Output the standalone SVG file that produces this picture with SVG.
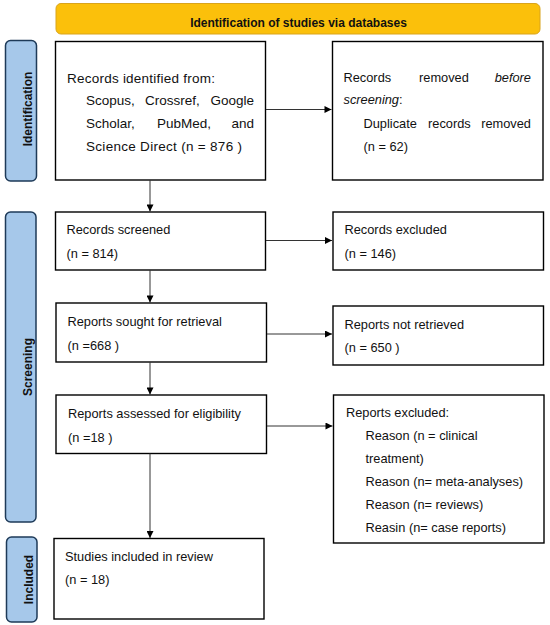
<svg xmlns="http://www.w3.org/2000/svg" width="550" height="625" viewBox="0 0 550 625">
<defs>
<marker id="ah" viewBox="0 0 10 10" refX="10" refY="5" markerWidth="8" markerHeight="7" markerUnits="userSpaceOnUse" orient="auto">
<path d="M0,0 L10,5 L0,10 z" fill="#000"/>
</marker>
<style>
.box{fill:#fff;stroke:#000;stroke-width:1.4}
.side{fill:#a6c8ea;stroke:#1e3a58;stroke-width:1.5}
.t{font-family:"Liberation Sans",Arial,sans-serif;font-size:12.8px;fill:#111}
.t1{font-family:"Liberation Sans",Arial,sans-serif;font-size:13.5px;fill:#111}
.b{font-family:"Liberation Sans",Arial,sans-serif;font-size:12px;font-weight:bold;fill:#111}
.c{stroke:#333;stroke-width:1;fill:none;marker-end:url(#ah)}
</style>
</defs>
<rect width="550" height="625" fill="#fff"/>
<g id="header">
<rect x="56" y="3.5" width="484" height="30.5" rx="5" fill="#fbc00b" stroke="#d9a41c" stroke-width="1"/>
<text class="b" x="298.5" y="27" text-anchor="middle" font-size="12.6px">Identification of studies via databases</text>
</g>
<g id="side-identification">
<rect class="side" x="5.5" y="40.5" width="31" height="140.5" rx="5"/>
<text class="b" transform="translate(32,109) rotate(-90)" text-anchor="middle">Identification</text>
</g>
<g id="side-screening">
<rect class="side" x="5.5" y="212" width="30.5" height="310" rx="5"/>
<text class="b" transform="translate(32,367) rotate(-90)" text-anchor="middle">Screening</text>
</g>
<g id="side-included">
<rect class="side" x="6.5" y="537" width="30.5" height="85" rx="5"/>
<text class="b" transform="translate(32.5,579.5) rotate(-90)" text-anchor="middle">Included</text>
</g>
<g id="records-identified">
<rect class="box" x="55.5" y="41.5" width="210" height="138.5"/>
<text class="t1" x="67" y="82.5" textLength="148" lengthAdjust="spacing">Records identified from:</text>
<text class="t1" x="86" y="105">Scopus,</text>
<text class="t1" x="145" y="105">Crossref,</text>
<text class="t1" x="254" y="105" text-anchor="end">Google</text>
<text class="t1" x="86" y="128">Scholar,</text>
<text class="t1" x="157" y="128">PubMed,</text>
<text class="t1" x="254" y="128" text-anchor="end">and</text>
<text class="t1" x="86" y="151" textLength="156" lengthAdjust="spacing">Science Direct (n = 876 )</text>
</g>
<g id="records-removed">
<rect class="box" x="332.5" y="41.5" width="210.5" height="138.5"/>
<text class="t" x="343.5" y="81.5">Records</text>
<text class="t" x="419" y="81.5">removed</text>
<text class="t" x="531" y="81.5" text-anchor="end" font-style="italic">before</text>
<text class="t" x="343.5" y="104"><tspan font-style="italic">screening</tspan>:</text>
<text class="t" x="363.5" y="127.5">Duplicate</text>
<text class="t" x="428" y="127.5">records</text>
<text class="t" x="531" y="127.5" text-anchor="end">removed</text>
<text class="t" x="363.5" y="150.5">(n = 62)</text>
</g>
<g id="records-screened">
<rect class="box" x="55.5" y="212" width="210" height="58"/>
<text class="t" x="66.5" y="234">Records screened</text>
<text class="t" x="66.5" y="257.5">(n = 814)</text>
</g>
<g id="records-excluded">
<rect class="box" x="333" y="212" width="210.5" height="58"/>
<text class="t" x="344.5" y="234">Records excluded</text>
<text class="t" x="344.5" y="257.5">(n = 146)</text>
</g>
<g id="reports-sought">
<rect class="box" x="56" y="303" width="210.5" height="59"/>
<text class="t" x="67.5" y="326">Reports sought for retrieval</text>
<text class="t" x="67.5" y="349.5">(n =668 )</text>
</g>
<g id="reports-not-retrieved">
<rect class="box" x="333" y="306" width="210.5" height="59"/>
<text class="t" x="344.5" y="328.5">Reports not retrieved</text>
<text class="t" x="344.5" y="352">(n = 650 )</text>
</g>
<g id="reports-assessed">
<rect class="box" x="56" y="395" width="210.5" height="58.5"/>
<text class="t" x="68" y="418">Reports assessed for eligibility</text>
<text class="t" x="68" y="441.5">(n =18 )</text>
</g>
<g id="reports-excluded">
<rect class="box" x="333.5" y="395" width="210.5" height="148"/>
<text class="t" x="346" y="416.5">Reports excluded:</text>
<text class="t" x="365.5" y="439.5">Reason (n = clinical</text>
<text class="t" x="365.5" y="462.5">treatment)</text>
<text class="t" x="365.5" y="486">Reason (n= meta-analyses)</text>
<text class="t" x="365.5" y="509">Reason (n= reviews)</text>
<text class="t" x="365.5" y="532">Reasin (n= case reports)</text>
</g>
<g id="studies-included">
<rect class="box" x="54" y="538.5" width="210" height="80.5"/>
<text class="t" x="65" y="560.5">Studies included in review</text>
<text class="t" x="65" y="583.5">(n = 18)</text>
</g>
<g id="connectors">
<line class="c" x1="266" y1="109.5" x2="331.5" y2="109.5"/>
<line class="c" x1="150" y1="180" x2="150" y2="211.5"/>
<line class="c" x1="266" y1="240.5" x2="332" y2="240.5"/>
<line class="c" x1="150" y1="270" x2="150" y2="302.5"/>
<line class="c" x1="267" y1="334" x2="332" y2="334"/>
<line class="c" x1="150" y1="362" x2="150" y2="394.5"/>
<line class="c" x1="267" y1="426" x2="332.5" y2="426"/>
<line class="c" x1="150" y1="453.5" x2="150" y2="538"/>
</g>
</svg>
